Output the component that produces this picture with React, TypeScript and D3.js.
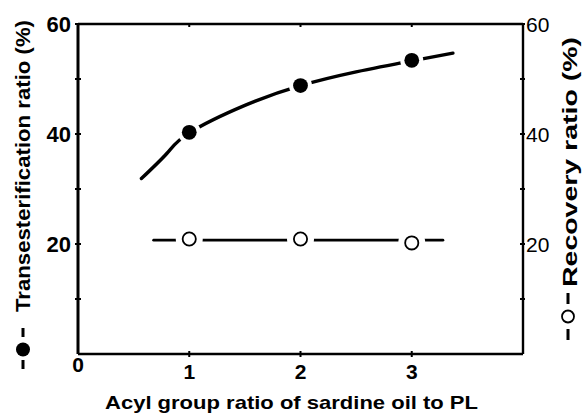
import * as d3 from "d3";
import React from "react";

const W = 582;
const H = 415;
const MARGIN = { left: 78, right: 59, top: 24, bottom: 61 };

// measured points
const ratios = [1, 2, 3];
const transValues = [40.3, 48.8, 53.4];
const recoveryValues = [20.9, 20.9, 20.2];

// hand-drawn fitted curves
const transFitX = [0.57, 0.8, 1, 1.5, 2, 2.5, 3, 3.37];
const transFitY = [31.9, 36.5, 40.2, 45.2, 48.8, 51.3, 53.3, 54.7];
const recFitX = [0.68, 3.28];
const recFitY = [20.7, 20.7];

const xTicks = [0, 1, 2, 3];
const yTicks = [20, 40, 60];
const yMinorTicks = [10, 30, 50];

const FONT = "'Liberation Sans', Arial, Helvetica, sans-serif";

export default function App() {
  const boundsW = W - MARGIN.left - MARGIN.right;
  const boundsH = H - MARGIN.top - MARGIN.bottom;

  const x = d3.scaleLinear().domain([0, 4]).range([MARGIN.left, MARGIN.left + boundsW]);
  const y = d3.scaleLinear().domain([0, 60]).range([MARGIN.top + boundsH, MARGIN.top]);

  const line = d3
    .line<[number, number]>()
    .x((d) => x(d[0]))
    .y((d) => y(d[1]))
    .curve(d3.curveNatural);

  const transPath = line(transFitX.map((v, i) => [v, transFitY[i]]));
  const recPath = line(recFitX.map((v, i) => [v, recFitY[i]]));

  const x0 = x(0);
  const x1 = x(4);
  const y0 = y(0);
  const y1 = y(60);

  return (
    <svg
      width={W}
      height={H}
      style={{ position: "fixed", left: 0, top: 0, background: "#fff" }}
      fontFamily={FONT}
    >
      <rect x={0} y={0} width={W} height={H} fill="#fff" />

      {/* curves */}
      <path d={transPath || ""} fill="none" stroke="#000" strokeWidth={3.4} strokeLinecap="round" />
      <path d={recPath || ""} fill="none" stroke="#000" strokeWidth={2.8} strokeLinecap="round" />

      {/* markers with white halo to break the lines */}
      {ratios.map((r, i) => (
        <g key={"t" + i}>
          <circle cx={x(r)} cy={y(transValues[i])} r={11.5} fill="#fff" />
          <circle cx={x(r)} cy={y(transValues[i])} r={7.4} fill="#000" />
        </g>
      ))}
      {ratios.map((r, i) => (
        <g key={"r" + i}>
          <circle cx={x(r)} cy={y(recoveryValues[i])} r={13.5} fill="#fff" />
          <circle cx={x(r)} cy={y(recoveryValues[i])} r={6.6} fill="#fff" stroke="#000" strokeWidth={1.8} />
        </g>
      ))}

      {/* frame */}
      <line x1={x0} x2={x0} y1={y1} y2={y0} stroke="#000" strokeWidth={3} />
      <line x1={x0} x2={x1} y1={y0} y2={y0} stroke="#000" strokeWidth={2.6} />
      <line x1={x0} x2={x1} y1={y1} y2={y1} stroke="#000" strokeWidth={2.6} />
      <line x1={x1} x2={x1} y1={y1} y2={y0} stroke="#000" strokeWidth={2.4} />

      {/* left ticks */}
      {[...yTicks, ...yMinorTicks].map((t) => (
        <line key={"ly" + t} x1={x0 - 3} x2={x0 + 3} y1={y(t)} y2={y(t)} stroke="#000" strokeWidth={2} />
      ))}
      {/* right ticks */}
      {[...yTicks, ...yMinorTicks].map((t) => (
        <line key={"ry" + t} x1={x1 - 3} x2={x1 + 2} y1={y(t)} y2={y(t)} stroke="#000" strokeWidth={2} />
      ))}
      {/* bottom ticks */}
      {xTicks.slice(1).map((t) => (
        <line key={"bx" + t} x1={x(t)} x2={x(t)} y1={y0 - 3} y2={y0 + 3} stroke="#000" strokeWidth={2} />
      ))}
      {/* top ticks */}
      {xTicks.slice(1).map((t) => (
        <line key={"tx" + t} x1={x(t)} x2={x(t)} y1={y1} y2={y1 + 3} stroke="#000" strokeWidth={2} />
      ))}

      {/* left tick labels */}
      {yTicks.map((t) => (
        <text key={"lt" + t} x={x0 - 7} y={y(t)} dy="0.36em" textAnchor="end" fontSize={22} fontWeight="bold">
          {t}
        </text>
      ))}
      {/* right tick labels */}
      {yTicks.map((t) => (
        <text key={"rt" + t} x={x1 + 3} y={y(t)} dy="0.36em" textAnchor="start" fontSize={21}>
          {t}
        </text>
      ))}
      {/* x tick labels */}
      {xTicks.map((t) => (
        <text
          key={"xt" + t}
          x={x(t)}
          y={t === 0 ? 372 : 379}
          textAnchor="middle"
          fontSize={21}
          fontWeight="bold"
        >
          {t}
        </text>
      ))}

      {/* x axis title */}
      <text x={105} y={409} textAnchor="start" fontSize={18.5} fontWeight="bold" textLength={373} lengthAdjust="spacingAndGlyphs">
        Acyl group ratio of sardine oil to PL
      </text>

      {/* left axis title with filled-circle legend glyph */}
      <g>
        <rect x={21.5} y={328} width={3} height={9} fill="#000" />
        <circle cx={23} cy={349.5} r={7} fill="#000" />
        <rect x={21.5} y={360} width={3} height={9} fill="#000" />
        <text
          transform={`translate(30,312) rotate(-90)`}
          textAnchor="start"
          fontSize={20}
          fontWeight="bold"
          textLength={292}
          lengthAdjust="spacingAndGlyphs"
        >
          Transesterification ratio (%)
        </text>
      </g>

      {/* right axis title with open-circle legend glyph */}
      <g>
        <rect x={566.5} y={293} width={3} height={11} fill="#000" />
        <circle cx={568} cy={316.5} r={6} fill="none" stroke="#000" strokeWidth={1.8} />
        <rect x={566.5} y={329} width={3} height={11} fill="#000" />
        <text
          transform={`translate(577,287) rotate(-90)`}
          textAnchor="start"
          fontSize={21}
          fontWeight="bold"
          textLength={250}
          lengthAdjust="spacingAndGlyphs"
        >
          Recovery ratio (%)
        </text>
      </g>
    </svg>
  );
}
